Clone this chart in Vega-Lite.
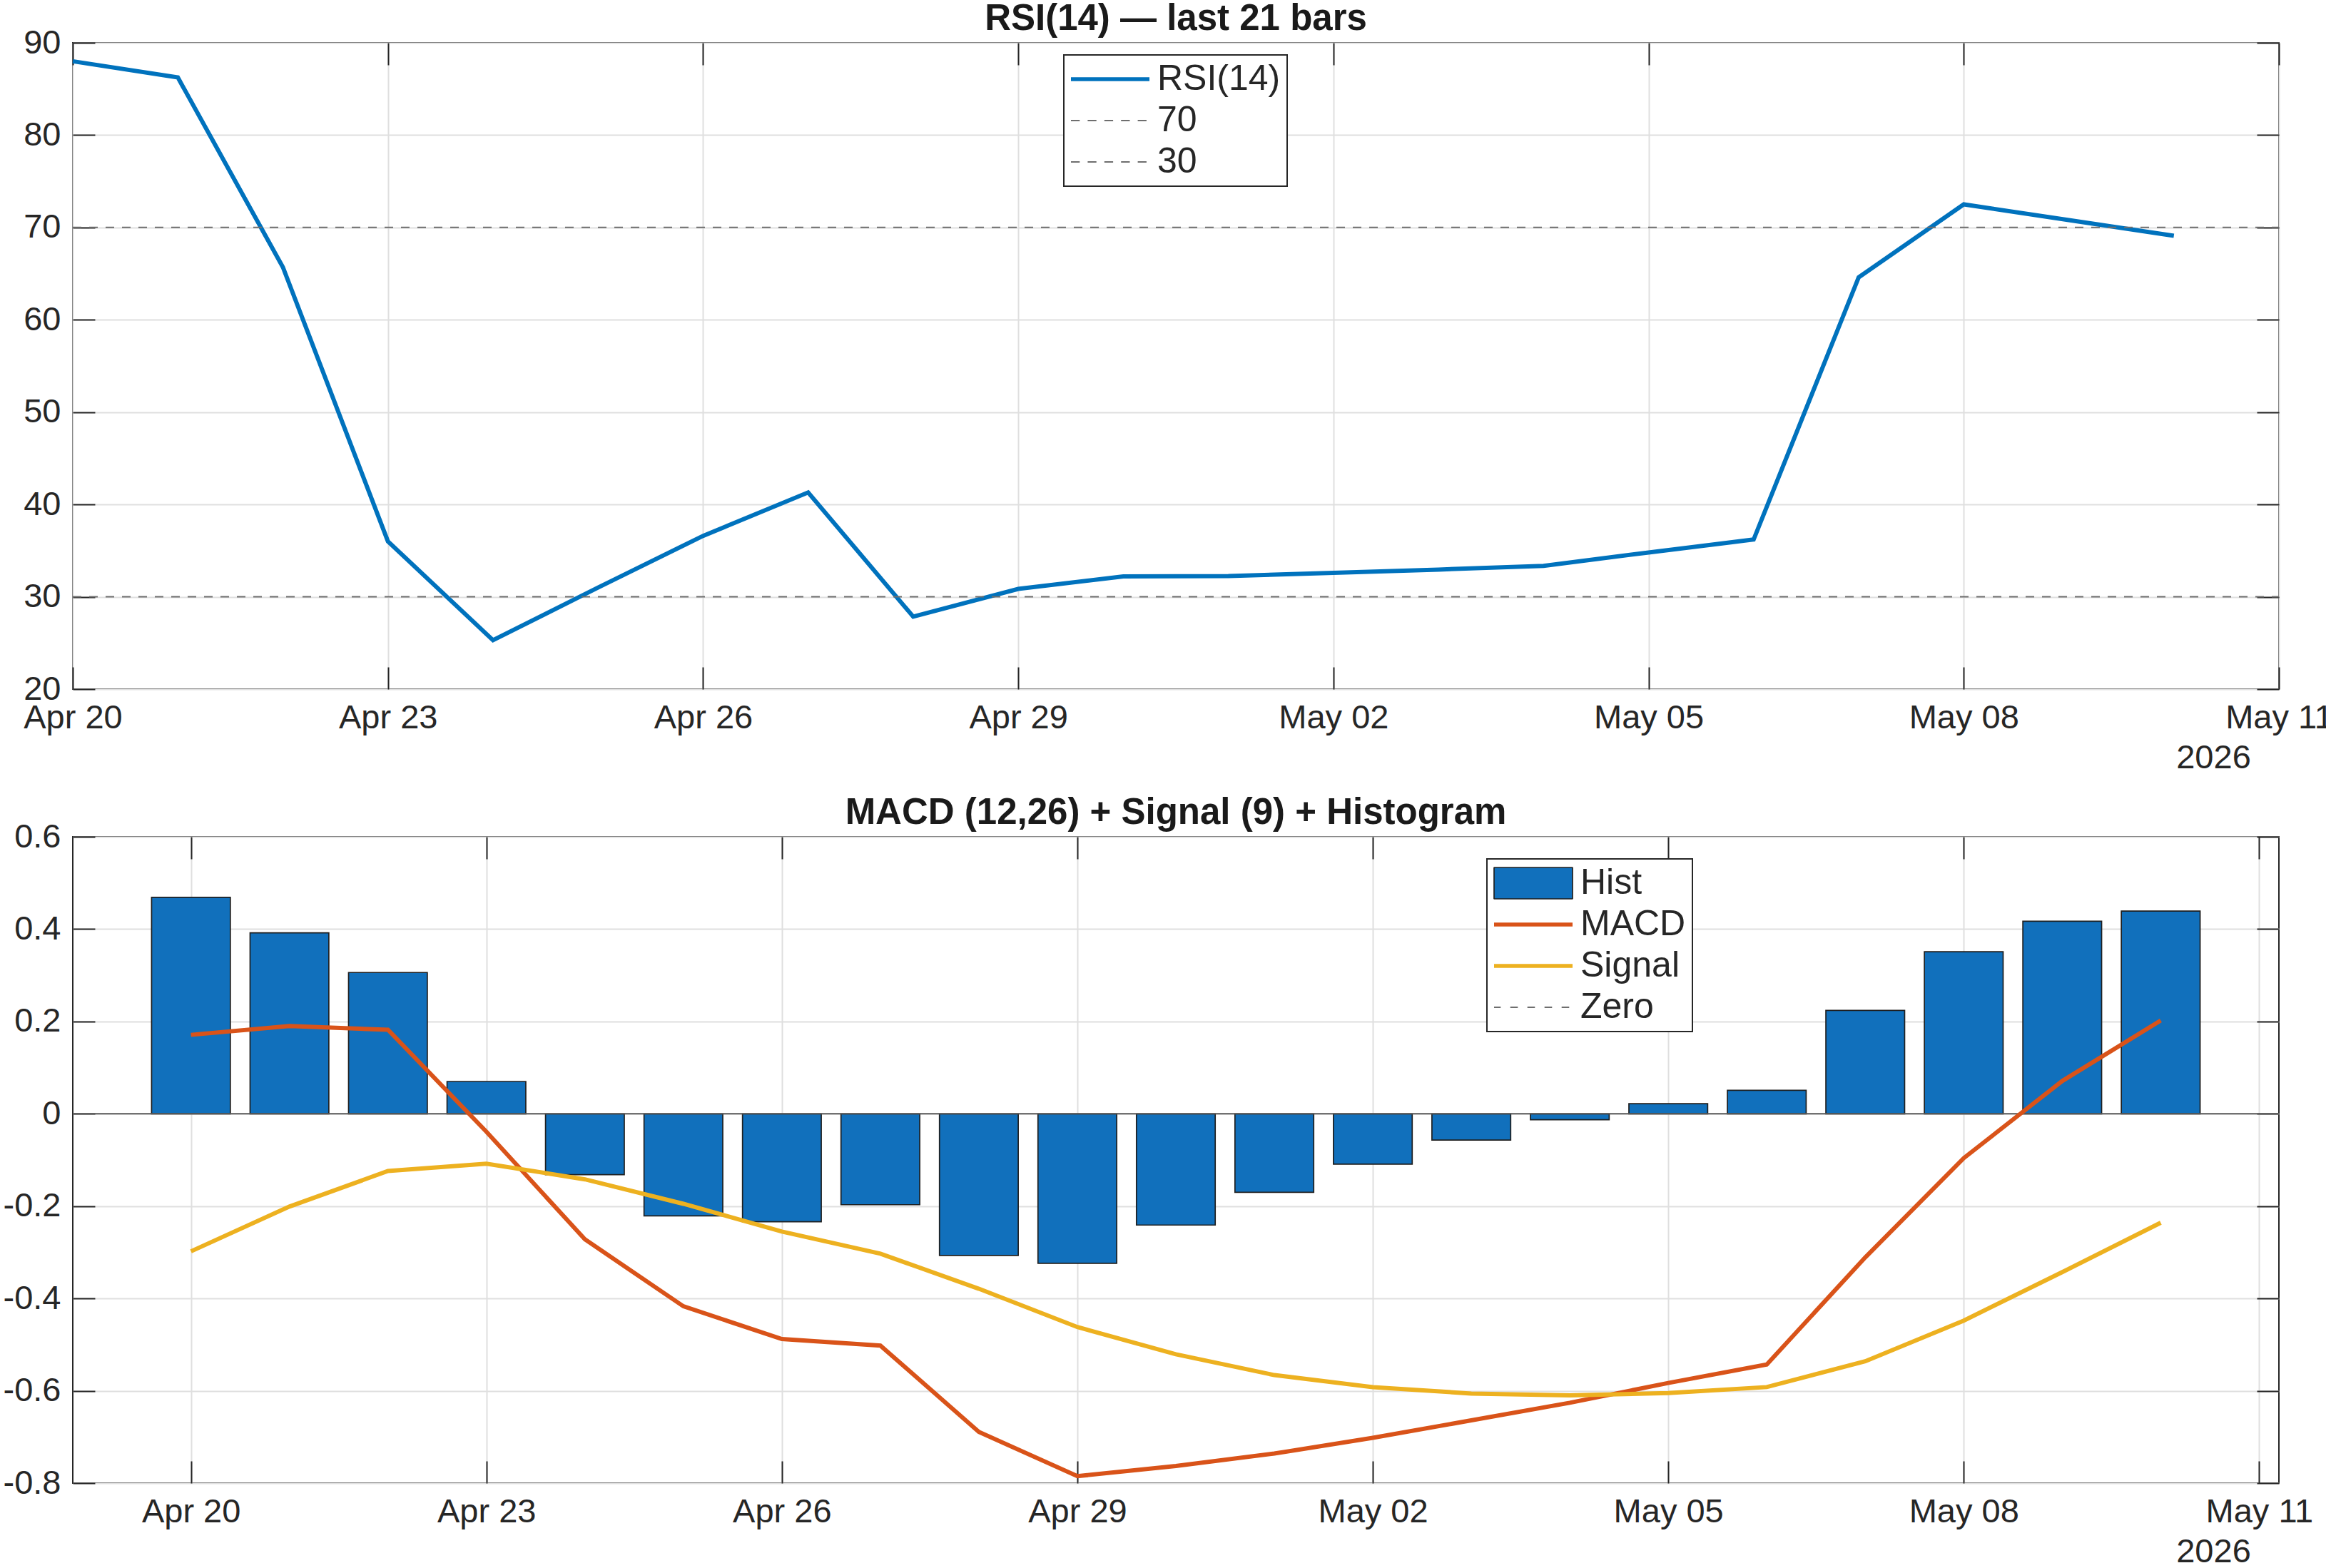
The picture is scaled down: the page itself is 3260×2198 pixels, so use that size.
{
  "$schema": "https://vega.github.io/schema/vega-lite/v6.json",
  "background": "white",
  "padding": {"left": 3, "top": 0, "right": 0, "bottom": 0},
  "datasets": {
    "ind": [
      {"date": "2026-04-20T00:00:00", "rsi": 88.0, "macd": 0.171, "signal": -0.298, "hist": 0.469},
      {"date": "2026-04-21T00:00:00", "rsi": 86.25, "macd": 0.190, "signal": -0.201, "hist": 0.392},
      {"date": "2026-04-22T00:00:00", "rsi": 65.7, "macd": 0.182, "signal": -0.124, "hist": 0.306},
      {"date": "2026-04-23T00:00:00", "rsi": 36.0, "macd": -0.039, "signal": -0.108, "hist": 0.070},
      {"date": "2026-04-24T00:00:00", "rsi": 25.3, "macd": -0.272, "signal": -0.142, "hist": -0.132},
      {"date": "2026-04-25T00:00:00", "rsi": 31.0, "macd": -0.417, "signal": -0.195, "hist": -0.221},
      {"date": "2026-04-26T00:00:00", "rsi": 36.6, "macd": -0.488, "signal": -0.255, "hist": -0.234},
      {"date": "2026-04-27T00:00:00", "rsi": 41.3, "macd": -0.502, "signal": -0.303, "hist": -0.197},
      {"date": "2026-04-28T00:00:00", "rsi": 27.85, "macd": -0.689, "signal": -0.379, "hist": -0.307},
      {"date": "2026-04-29T00:00:00", "rsi": 30.85, "macd": -0.785, "signal": -0.462, "hist": -0.324},
      {"date": "2026-04-30T00:00:00", "rsi": 32.2, "macd": -0.763, "signal": -0.521, "hist": -0.241},
      {"date": "2026-05-01T00:00:00", "rsi": 32.25, "macd": -0.736, "signal": -0.566, "hist": -0.170},
      {"date": "2026-05-02T00:00:00", "rsi": 32.6, "macd": -0.702, "signal": -0.592, "hist": -0.109},
      {"date": "2026-05-03T00:00:00", "rsi": 32.95, "macd": -0.664, "signal": -0.606, "hist": -0.057},
      {"date": "2026-05-04T00:00:00", "rsi": 33.35, "macd": -0.626, "signal": -0.610, "hist": -0.013},
      {"date": "2026-05-05T00:00:00", "rsi": 34.8, "macd": -0.583, "signal": -0.605, "hist": 0.022},
      {"date": "2026-05-06T00:00:00", "rsi": 36.2, "macd": -0.543, "signal": -0.592, "hist": 0.051},
      {"date": "2026-05-07T00:00:00", "rsi": 64.6, "macd": -0.311, "signal": -0.536, "hist": 0.224},
      {"date": "2026-05-08T00:00:00", "rsi": 72.5, "macd": -0.096, "signal": -0.448, "hist": 0.351},
      {"date": "2026-05-09T00:00:00", "rsi": 70.8, "macd": 0.071, "signal": -0.343, "hist": 0.417},
      {"date": "2026-05-10T00:00:00", "rsi": 69.1, "macd": 0.202, "signal": -0.236, "hist": 0.439}
    ]
  },
  "spacing": 27,
  "vconcat": [
    {
      "width": 3092,
      "height": 906,
      "title": {"text": "RSI(14) — last 21 bars"},
      "layer": [
        {
          "data": {"name": "ind"},
          "mark": {"type": "line", "strokeWidth": 6},
          "encoding": {
            "x": {
              "field": "date", "type": "temporal",
              "scale": {"domain": [{"year": 2026, "month": 4, "date": 20}, {"year": 2026, "month": 5, "date": 11}]},
              "axis": {
                "orient": "bottom", "format": "%b %d", "grid": true, "labelPadding": 48,
                "values": [
                  {"year": 2026, "month": 4, "date": 20}, {"year": 2026, "month": 4, "date": 23},
                  {"year": 2026, "month": 4, "date": 26}, {"year": 2026, "month": 4, "date": 29},
                  {"year": 2026, "month": 5, "date": 2}, {"year": 2026, "month": 5, "date": 5},
                  {"year": 2026, "month": 5, "date": 8}, {"year": 2026, "month": 5, "date": 11}
                ],
                "title": "2026", "titleX": 3000, "titleY": 110, "titleBaseline": "alphabetic", "titleAlign": "center"
              }
            },
            "y": {
              "field": "rsi", "type": "quantitative",
              "scale": {"domain": [20, 90], "nice": false, "zero": false},
              "axis": {"orient": "left", "grid": true, "labelPadding": 48, "title": null, "values": [20, 30, 40, 50, 60, 70, 80, 90]}
            },
            "color": {
              "datum": "RSI(14)",
              "scale": {"domain": ["RSI(14)", "70", "30"], "range": ["#0072BD", "#6e6e6e", "#6e6e6e"]},
              "legend": {
                "orient": "none", "legendX": 1389, "legendY": 17,
                "symbolType": "M-1.0909,0H3.9091",
                "symbolSize": 1936,
                "encode": {
                  "symbols": {"update": {
                    "fill": {"value": "transparent"},
                    "strokeWidth": {"signal": "(datum.value === 'RSI(14)' ? 5.7 : 2)"},
                    "strokeDash": {"signal": "(datum.value === 'RSI(14)' ? [1, 0] : [12.3, 11.1])"},
                    "opacity": {"value": 1}
                  }},
                  "legend": {"update": {"strokeWidth": {"value": 2}}}
                }
              }
            }
          }
        },
        {
          "data": {"values": [{"name": "70", "level": 70}, {"name": "30", "level": 30}]},
          "mark": {"type": "rule", "strokeWidth": 2, "strokeDash": [12, 11], "color": "#6e6e6e"},
          "encoding": {
            "x": {
              "datum": {"year": 2026, "month": 4, "date": 20}, "type": "temporal",
              "axis": {
                "orient": "top", "labels": false, "grid": false, "title": null,
                "values": [
                  {"year": 2026, "month": 4, "date": 20}, {"year": 2026, "month": 4, "date": 23},
                  {"year": 2026, "month": 4, "date": 26}, {"year": 2026, "month": 4, "date": 29},
                  {"year": 2026, "month": 5, "date": 2}, {"year": 2026, "month": 5, "date": 5},
                  {"year": 2026, "month": 5, "date": 8}, {"year": 2026, "month": 5, "date": 11}
                ]
              }
            },
            "x2": {"datum": {"year": 2026, "month": 5, "date": 11}},
            "y": {
              "field": "level", "type": "quantitative",
              "axis": {"orient": "right", "labels": false, "grid": false, "title": null, "values": [20, 30, 40, 50, 60, 70, 80, 90]}
            }
          }
        }
      ],
      "resolve": {"axis": {"x": "independent", "y": "independent"}}
    },
    {
      "width": 3092,
      "height": 906,
      "title": {"text": "MACD (12,26) + Signal (9) + Histogram"},
      "layer": [
        {
          "data": {"name": "ind"},
          "mark": {"type": "bar", "width": 110.4, "fill": "#1170BC", "stroke": "#1f1f1f", "strokeWidth": 1.7},
          "encoding": {
            "x": {
              "field": "date", "type": "temporal",
              "scale": {
                "domain": [
                  {"year": 2026, "month": 4, "date": 18, "hours": 19, "minutes": 12},
                  {"year": 2026, "month": 5, "date": 11, "hours": 4, "minutes": 48}
                ],
                "padding": 0
              },
              "axis": {
                "orient": "bottom", "format": "%b %d", "grid": true, "labelPadding": 48,
                "values": [
                  {"year": 2026, "month": 4, "date": 20}, {"year": 2026, "month": 4, "date": 23},
                  {"year": 2026, "month": 4, "date": 26}, {"year": 2026, "month": 4, "date": 29},
                  {"year": 2026, "month": 5, "date": 2}, {"year": 2026, "month": 5, "date": 5},
                  {"year": 2026, "month": 5, "date": 8}, {"year": 2026, "month": 5, "date": 11}
                ],
                "title": "2026", "titleX": 3000, "titleY": 110, "titleBaseline": "alphabetic", "titleAlign": "center"
              }
            },
            "y": {
              "field": "hist", "type": "quantitative",
              "scale": {"domain": [-0.8, 0.6], "nice": false},
              "axis": {
                "orient": "left", "grid": true, "labelPadding": 48, "title": null,
                "values": [-0.8, -0.6, -0.4, -0.2, 0, 0.2, 0.4, 0.6],
                "labelExpr": "datum.value == 0 ? '0' : replace(format(datum.value, '.1f'), '−', '-')"
              }
            },
            "y2": {"datum": 0}
          }
        },
        {
          "data": {"values": [{"name": "Zero", "level": 0}]},
          "mark": {"type": "rule", "strokeWidth": 2, "color": "#5a5a5a"},
          "encoding": {
            "y": {
              "field": "level", "type": "quantitative",
              "axis": {"orient": "right", "labels": false, "grid": false, "title": null, "values": [-0.8, -0.6, -0.4, -0.2, 0, 0.2, 0.4, 0.6]}
            }
          }
        },
        {
          "data": {"name": "ind"},
          "mark": {"type": "line", "strokeWidth": 6},
          "encoding": {
            "x": {"field": "date", "type": "temporal", "axis": null},
            "y": {"field": "macd", "type": "quantitative", "axis": null},
            "color": {
              "datum": "MACD",
              "scale": {"domain": ["Hist", "MACD", "Signal", "Zero"], "range": ["#1f1f1f", "#D95319", "#EDB120", "#6e6e6e"]},
              "legend": {
                "orient": "none", "legendX": 1982, "legendY": 31,
                "symbolType": "M-1.0909,0H3.9091V-1H-1.0909V1H3.9091V0",
                "symbolSize": 1936,
                "encode": {
                  "symbols": {"update": {
                    "shape": {"signal": "(datum.value === 'Hist' ? 'M-1.0909,0H3.9091V-1H-1.0909V1H3.9091V0' : 'M-1.0909,0H3.9091')"},
                    "fill": {"signal": "(datum.value === 'Hist' ? '#1170BC' : 'transparent')"},
                    "strokeWidth": {"signal": "(datum.value === 'Hist' ? 1.7 : datum.value === 'Zero' ? 2 : 5.7)"},
                    "strokeDash": {"signal": "(datum.value === 'Hist' ? [0, 110, 308, 0] : datum.value === 'Zero' ? [9.3, 13.4, 10.6, 13.4, 10.6, 13.4, 10.6, 13.4, 10.6, 1000] : [110, 1000])"},
                    "strokeJoin": {"value": "bevel"},
                    "opacity": {"value": 1}
                  }},
                  "legend": {"update": {"strokeWidth": {"value": 2}}}
                }
              }
            }
          }
        },
        {
          "data": {"name": "ind"},
          "mark": {"type": "line", "strokeWidth": 6, "color": "#EDB120"},
          "encoding": {
            "x": {
              "field": "date", "type": "temporal",
              "axis": {
                "orient": "top", "labels": false, "grid": false, "title": null,
                "values": [
                  {"year": 2026, "month": 4, "date": 20}, {"year": 2026, "month": 4, "date": 23},
                  {"year": 2026, "month": 4, "date": 26}, {"year": 2026, "month": 4, "date": 29},
                  {"year": 2026, "month": 5, "date": 2}, {"year": 2026, "month": 5, "date": 5},
                  {"year": 2026, "month": 5, "date": 8}, {"year": 2026, "month": 5, "date": 11}
                ]
              }
            },
            "y": {"field": "signal", "type": "quantitative", "axis": null}
          }
        }
      ],
      "resolve": {"axis": {"x": "independent", "y": "independent"}}
    }
  ],
  "resolve": {"scale": {"color": "independent"}, "legend": {"color": "independent"}},
  "config": {
    "font": "Liberation Sans",
    "view": {"stroke": "#262626", "strokeWidth": 2},
    "title": {"fontSize": 51, "fontWeight": "bold", "color": "#1a1a1a", "offset": -17, "anchor": "middle"},
    "axis": {
      "domain": false,
      "labelFont": "Liberation Sans",
      "labelFontSize": 47,
      "labelColor": "#262626",
      "tickColor": "#262626",
      "tickWidth": 2,
      "tickSize": -31,
      "gridColor": "#dfdfdf",
      "gridWidth": 2,
      "labelFlush": false,
      "labelOverlap": false,
      "labelBound": false,
      "titleFont": "Liberation Sans",
      "titleFontSize": 47,
      "titleFontWeight": "normal",
      "titleColor": "#262626"
    },
    "legend": {
      "title": null,
      "labelFont": "Liberation Sans",
      "labelFontSize": 50,
      "labelColor": "#262626",
      "labelLimit": 0,
      "labelOffset": 72,
      "rowPadding": 8,
      "padding": 9,
      "strokeColor": "#262626",
      "fillColor": "white"
    }
  }
}
